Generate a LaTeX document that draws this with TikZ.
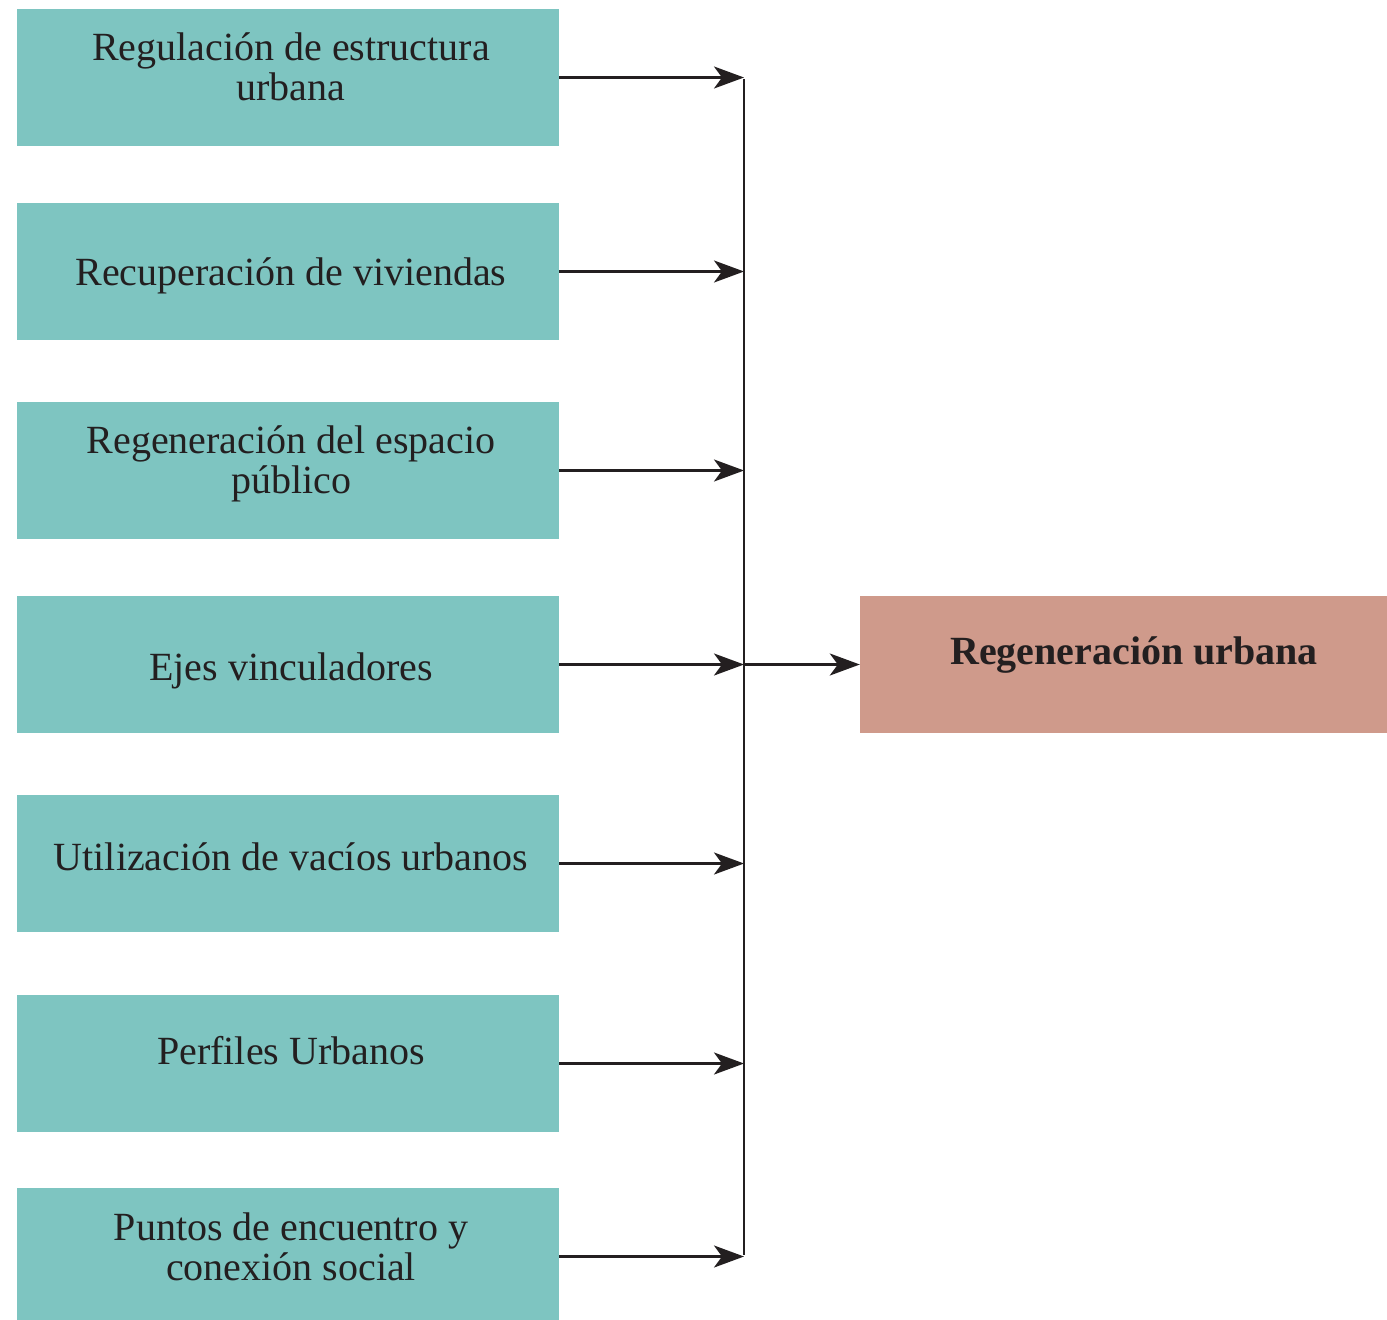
\documentclass[tikz,border=0pt]{standalone}
\usepackage{fontspec}
\setmainfont{Liberation Serif}
\usetikzlibrary{arrows.meta}
\definecolor{teal}{HTML}{7EC5C1}
\definecolor{rose}{HTML}{CF9A8B}
\definecolor{ink}{HTML}{231F20}
\tikzset{
  leftbox/.style={fill=teal, draw=none, minimum width=542pt, minimum height=137pt, inner sep=0pt},
  rightbox/.style={fill=rose, draw=none, minimum width=527pt, minimum height=137pt, inner sep=0pt},
  lbl/.style={text=ink, align=center, anchor=base, font=\fontsize{40}{40}\selectfont, inner sep=0pt},
  conn/.style={draw=ink, line width=2.6pt},
  arr/.style={conn, -{Stealth[length=30pt,width=22pt,inset=8pt]}}
}
\begin{document}
\begin{tikzpicture}[x=1pt,y=-1pt]
\useasboundingbox (0,0) rectangle (1387,1320);
% left boxes
\node[leftbox] (b1) at (288,77.5) {};
\node[leftbox] (b2) at (288,271.5) {};
\node[leftbox] (b3) at (288,470.5) {};
\node[leftbox] (b4) at (288,664.5) {};
\node[leftbox] (b5) at (288,863.5) {};
\node[leftbox] (b6) at (288,1063.5) {};
\node[leftbox] (b7) at (288,1256.5) {};
\node[rightbox] (r) at (1123.5,664.5) {};
% texts (base = baseline of last line)
\node[lbl] (t1) at (291,100) {Regulación de estructura\\urbana};
\node[lbl] (t2) at (291,285) {Recuperación de viviendas};
\node[lbl] (t3) at (291,493) {Regeneración del espacio\\público};
\node[lbl] (t4) at (291,680) {Ejes vinculadores};
\node[lbl] (t5) at (291,870) {Utilización de vacíos urbanos};
\node[lbl] (t6) at (291,1064) {Perfiles Urbanos};
\node[lbl] (t7) at (291,1280) {Puntos de encuentro y\\conexión social};
\node[lbl, font=\fontsize{40}{40}\selectfont\bfseries] (tr) at (1134,664) {Regeneración urbana};
% trunk
\coordinate (top) at (744,77.5);
\coordinate (bot) at (744,1256.5);
\coordinate (mid) at (744,664.5);
\draw[conn] ([yshift=-1.3pt]top) -- ([yshift=1.3pt]bot);
\foreach \i in {1,...,7}{
  \draw[arr] (b\i.east) -- (b\i.east -| top);
}
\draw[arr] (mid) -- (r.west);
\end{tikzpicture}
\end{document}
